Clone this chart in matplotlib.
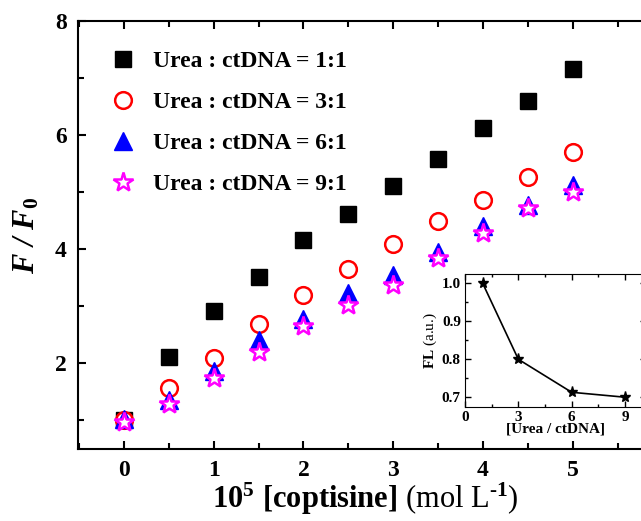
import numpy as np
import matplotlib.pyplot as plt
from matplotlib.ticker import MultipleLocator

plt.rcParams['font.family'] = 'Liberation Serif'
plt.rcParams['font.weight'] = 'bold'
plt.rcParams['mathtext.fontset'] = 'custom'
plt.rcParams['mathtext.rm'] = 'Liberation Serif'
plt.rcParams['mathtext.bf'] = 'Liberation Serif:bold'
plt.rcParams['mathtext.it'] = 'Liberation Serif:italic'
plt.rcParams['mathtext.bfit'] = 'Liberation Serif:bold:italic'

conc = [0, 0.5, 1, 1.5, 2, 2.5, 3, 3.5, 4, 4.5, 5]
ratio_1 = [1.0, 2.12, 2.91, 3.52, 4.16, 4.62, 5.10, 5.58, 6.13, 6.59, 7.16]
ratio_3 = [1.0, 1.57, 2.10, 2.69, 3.20, 3.66, 4.10, 4.50, 4.87, 5.26, 5.71]
ratio_6 = [1.03, 1.35, 1.87, 2.41, 2.78, 3.24, 3.55, 3.96, 4.40, 4.77, 5.12]
ratio_9 = [0.98, 1.29, 1.75, 2.20, 2.65, 3.03, 3.38, 3.84, 4.29, 4.72, 5.01]
labels = ['Urea : ctDNA = 1:1', 'Urea : ctDNA = 3:1',
          'Urea : ctDNA = 6:1', 'Urea : ctDNA = 9:1']

inset_x = [1, 3, 6, 9]
inset_fl = [1.0, 0.80, 0.713, 0.70]

fig = plt.figure(figsize=(6.41, 5.21), dpi=100)
ax = fig.add_axes([0.1217, 0.1382, 0.898, 0.8215])

ax.plot(conc, ratio_1, 's', color='black', markersize=11, label=labels[0])
ax.plot(conc, ratio_3, 'o', mfc='white', mec='red', mew=1.8, markersize=12, label=labels[1])
ax.plot(conc, ratio_6, '^', color='blue', markersize=13, label=labels[2])
ax.plot(conc, ratio_9, '*', mfc='white', mec='magenta', mew=1.8, markersize=15, label=labels[3])

ax.set_xlim(-0.51, 5.9)
ax.set_ylim(0.5, 8)
ax.xaxis.set_major_locator(MultipleLocator(1))
ax.xaxis.set_minor_locator(MultipleLocator(0.5))
ax.yaxis.set_major_locator(MultipleLocator(2))
ax.yaxis.set_minor_locator(MultipleLocator(1))
ax.tick_params(which='both', direction='in', top=True, right=True, width=1.5)
ax.tick_params(which='major', length=6, labelsize=17, pad=8)
ax.tick_params(which='minor', length=4)
for s in ax.spines.values():
    s.set_linewidth(1.5)

ax.set_xlabel(r'$\mathbf{10^5\ [coptisine]}$ (mol L$^{\text{-1}}$)', fontsize=22,
              fontweight='normal', labelpad=0)
ax.set_ylabel(r'$\mathbfit{F\ /\ F}_{\mathbf{0}}$', fontsize=22, labelpad=10)

ax.legend(loc='upper left', frameon=False, fontsize=17, labelspacing=0.82,
          handletextpad=0.25, borderaxespad=0.4, bbox_to_anchor=(0.005, 0.975))

# inset
ins = fig.add_axes([0.7254, 0.2194, 0.283, 0.2547])
ins.plot(inset_x, inset_fl, '-*', color='black', lw=1.2, markersize=8)
ins.set_xlim(0, 10.2)
ins.set_ylim(0.675, 1.025)
ins.set_xticks([0, 3, 6, 9])
ins.xaxis.set_minor_locator(MultipleLocator(1.5))
ins.yaxis.set_major_locator(MultipleLocator(0.1))
ins.yaxis.set_minor_locator(MultipleLocator(0.05))
ins.yaxis.set_major_formatter(plt.FormatStrFormatter('%.1f'))
ins.tick_params(which='both', direction='in', top=True, right=True, width=1)
ins.tick_params(which='major', length=4, labelsize=11, pad=3)
ins.tick_params(which='minor', length=2.5)
ins.set_xlabel('[Urea / ctDNA]', fontsize=11, fontweight='bold', labelpad=-1)
ins.set_ylabel(r'$\mathbf{FL}$ (a.u.)', fontsize=11, fontweight='normal', labelpad=2)

fig.savefig('out.png', dpi=100)
